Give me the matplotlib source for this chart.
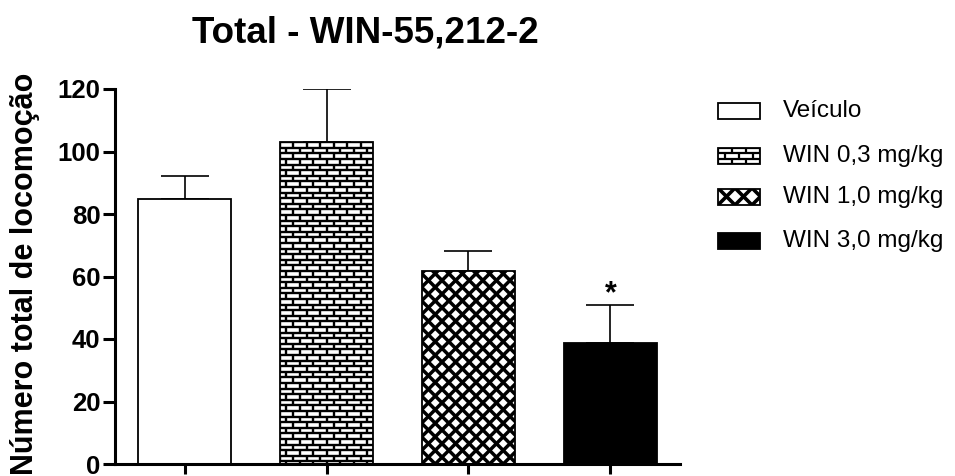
import numpy as np
import matplotlib
matplotlib.use("Agg")
import matplotlib.pyplot as plt
from matplotlib.patches import Rectangle
from matplotlib.collections import LineCollection
from matplotlib.transforms import IdentityTransform

# ---- data ----
groups = ["Veículo", "WIN 0,3 mg/kg", "WIN 1,0 mg/kg", "WIN 3,0 mg/kg"]
means = [84.7, 103.0, 61.7, 38.6]
sems = [7.6, 16.9, 6.4, 12.4]
significance = ["", "", "", "*"]
yticks = [0, 20, 40, 60, 80, 100, 120]
title = "Total - WIN-55,212-2"
ylabel = "Número total de locomoção"

# fill style per group: plain, brick, crosshatch, solid
fills = ["plain", "brick", "cross", "solid"]

W, H, DPI = 955, 476, 100
plt.rcParams["font.family"] = ["Liberation Sans", "DejaVu Sans"]

fig = plt.figure(figsize=(W / DPI, H / DPI), dpi=DPI)


def fx(px):
    return px / W


def fy(py):
    # pixel row counted from the top -> figure fraction
    return 1 - py / H


def brick_segments(x0, y0, x1, y1, row_h, brick_w):
    segs = []
    n_rows = int(np.ceil((y1 - y0) / row_h)) + 1
    for r in range(n_rows):
        yt = y1 - r * row_h
        yb = yt - row_h
        segs.append([(x0 - 2, yt), (x1 + 2, yt)])
        off = 0 if r % 2 == 0 else brick_w / 2
        xv = x0 + off
        while xv < x1 + brick_w:
            segs.append([(xv, yb), (xv, yt)])
            xv += brick_w
    return segs


def cross_segments(x0, y0, x1, y1, period):
    segs = []
    L = (x1 - x0) + (y1 - y0) + 50
    k0 = int(-L / period) - 2
    k1 = int(2 * L / period) + 2
    for k in range(k0, k1):
        cx = x0 + k * period
        segs.append([(cx - L, y0 - L), (cx + L, y0 + L)])
        segs.append([(cx - L, y0 + L), (cx + L, y0 - L)])
    return segs


def add_fill(container, patch, style, lw, row_h=5.6, brick_w=13.5, period=13.6):
    bb = patch.get_window_extent()
    if style == "brick":
        segs = brick_segments(bb.x0, bb.y0, bb.x1, bb.y1, row_h, brick_w)
    elif style == "cross":
        segs = cross_segments(bb.x0, bb.y0, bb.x1, bb.y1, period)
    else:
        return
    lc = LineCollection(segs, colors="black", linewidths=lw,
                        transform=IdentityTransform(), zorder=2.5)
    if container is fig:
        fig.add_artist(lc)
    else:
        container.add_collection(lc, autolim=False)
    # clip the pattern to the outline of its rectangle
    lc.set_clip_path(patch.get_path(), patch.get_transform())


# ---- axes ----
ax = fig.add_axes([fx(115), fy(464), fx(680) - fx(115), fy(89) - fy(464)])
x = np.arange(len(groups))
ax.set_xlim(-0.49, 3.49)
ax.set_ylim(0, 120)

face = ["black" if f == "solid" else "white" for f in fills]
bars = ax.bar(x, means, width=0.66, color=face, edgecolor="none", zorder=2)
for b, f in zip(bars, fills):
    add_fill(ax, b, f, lw=(1.7 if f == "brick" else 2.5))
ax.bar(x, means, width=0.66, fill=False, edgecolor="black", linewidth=1.3, zorder=3)

ax.errorbar(x, means, yerr=[np.zeros(len(means)), sems], fmt="none",
            ecolor="black", elinewidth=1.2, capsize=17, capthick=1.2, zorder=1)

for xi, m, s, lab in zip(x, means, sems, significance):
    if lab:
        ax.annotate(lab, xy=(xi, m + s), xytext=(0, 1.5), textcoords="offset points",
                    ha="center", va="baseline", fontsize=22, fontweight="bold")

for side in ("top", "right"):
    ax.spines[side].set_visible(False)
for side in ("left", "bottom"):
    ax.spines[side].set_linewidth(2.2)

ax.set_yticks(yticks)
ax.set_yticklabels([str(t) for t in yticks], fontsize=18.5, fontweight="bold")
ax.tick_params(axis="y", direction="out", length=8.5, width=2.2, pad=2)
ax.set_xticks(x)
ax.set_xticklabels([])
ax.tick_params(axis="x", direction="out", length=7.5, width=2.2)

# ---- titles ----
fig.text(fx(365), fy(43), title, ha="center", va="baseline",
         fontsize=26.5, fontweight="bold")
fig.text(fx(33), fy(274), ylabel, ha="center", va="baseline", rotation=90,
         rotation_mode="anchor", fontsize=22, fontweight="bold")

# ---- legend ----
leg_rows = [111, 156, 197, 241]
for lab, f, yc in zip(groups, fills, leg_rows):
    yb = H - yc - 8
    rect = Rectangle((718, yb), 42, 16, transform=IdentityTransform(),
                     facecolor=("black" if f == "solid" else "white"),
                     edgecolor="none", zorder=2)
    fig.add_artist(rect)
    add_fill(fig, rect, f, lw=(1.6 if f == "brick" else 2.6),
             row_h=5.3, brick_w=14, period=17)
    fig.add_artist(Rectangle((718, yb), 42, 16, transform=IdentityTransform(),
                             fill=False, edgecolor="black", linewidth=1.3, zorder=3))
    fig.text(fx(783), fy(yc), lab, ha="left", va="center", fontsize=17.5)

fig.savefig("out.png", dpi=DPI)
